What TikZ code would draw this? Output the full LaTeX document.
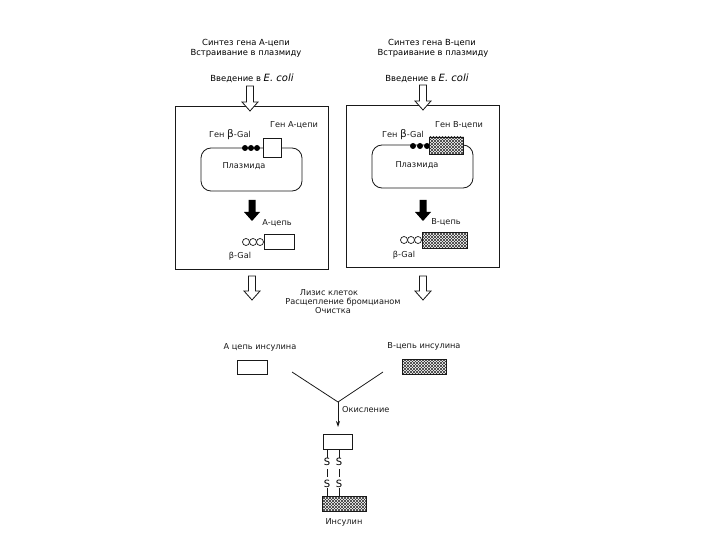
\documentclass[tikz,border=0pt]{standalone}
\usepackage{fontspec}
\setmainfont{DejaVu Sans}
\usetikzlibrary{patterns,arrows.meta}
\tikzset{
  hdr/.style={font=\fontsize{8.4}{9}\selectfont, inner sep=0pt, text=black},
  lbl/.style={font=\fontsize{8.2}{9}\selectfont, inner sep=0pt, text=black!90},
  sulf/.style={font=\fontsize{10}{11}\selectfont, inner sep=0pt, text=black},
  frame/.style={draw=black!90, line width=1pt},
  thin/.style={draw=black!90, line width=0.8pt},
  hatch/.style={draw=black!90, line width=0.8pt, preaction={fill=white}, preaction={pattern=north east lines, pattern color=black!80}, pattern=north west lines, pattern color=black!80},
  wbox/.style={draw=black!90, line width=0.8pt, fill=white},
  bead/.style={circle, fill=black, inner sep=0pt, minimum size=6pt},
  obead/.style={circle, draw=black!90, fill=white, line width=0.7pt, inner sep=0pt, minimum size=7pt},
  hollow/.pic={\draw[line width=0.8pt, draw=black!90, fill=white]
      (-3.5,0) -- (-3.5,\pgfkeysvalueof{/tikz/arrlen}-9) -- (-8,\pgfkeysvalueof{/tikz/arrlen}-9)
      -- (0,\pgfkeysvalueof{/tikz/arrlen}) -- (8,\pgfkeysvalueof{/tikz/arrlen}-9)
      -- (3.5,\pgfkeysvalueof{/tikz/arrlen}-9) -- (3.5,0) -- cycle;},
  solidarrow/.pic={\fill[black]
      (-3.5,0) -- (-3.5,12) -- (-8,12) -- (0,21) -- (8,12) -- (3.5,12) -- (3.5,0) -- cycle;},
  arrlen/.initial=24,
}
\begin{document}
\begin{tikzpicture}[x=1pt,y=-1pt]
\useasboundingbox[fill=white] (0,0) rectangle (720,540);

% ---------- left column ----------
\node[hdr] (tA1) at (246,43) {Синтез гена А-цепи};
\node[hdr] (tA2) at (246,53) {Встраивание в плазмиду};
\node[hdr] (tA3) at (252,78) {Введение в {\fontsize{10}{11}\selectfont\itshape E. coli}};

\draw[frame] (175,107) rectangle (328,269);
\path (250,86) coordinate (hA) pic[arrlen=25] {hollow};

\draw[thin, rounded corners=10pt] (201,148) rectangle (302,191);
\node[bead] (dA1) at (245,148) {};
\node[bead] (dA2) at (251,148) {};
\node[bead] (dA3) at (257,148) {};
\node[wbox, minimum width=18pt, minimum height=19pt, inner sep=0pt] (gA) at (272,147.5) {};
\node[lbl] (lgA) at (230,135) {Ген {\fontsize{10.5}{11}\selectfont β}-Gal};
\node[lbl] (lgcA) at (294,125) {Ген А-цепи};
\node[lbl] (plA) at (244,166) {Плазмида};

\path (252,200) coordinate (sA) pic {solidarrow};

\node[lbl] (ncA) at (277,223) {А-цепь};
\node[obead] (oA1) at (246,242) {};
\node[obead] (oA2) at (253,242) {};
\node[obead] (oA3) at (260,242) {};
\node[wbox, minimum width=30pt, minimum height=15pt, inner sep=0pt, anchor=west] (pA) at (264,241.5) {};
\node[lbl] (bgA) at (240,256) {β-Gal};

% ---------- right column ----------
\node[hdr] (tB1) at (432,43) {Синтез гена В-цепи};
\node[hdr] (tB2) at (433,53) {Встраивание в плазмиду};
\node[hdr] (tB3) at (427,78) {Введение в {\fontsize{10}{11}\selectfont\itshape E. coli}};

\draw[frame] (346,106) rectangle (499,267);
\path (423,85) coordinate (hB) pic[arrlen=25] {hollow};

\draw[thin, rounded corners=10pt] (372,145) rectangle (473,188);
\node[bead] (dB1) at (413,146) {};
\node[bead] (dB2) at (420,146) {};
\node[bead] (dB3) at (427,146) {};
\node[hatch, minimum width=34pt, minimum height=17pt, inner sep=0pt] (gB) at (446,145.5) {};
\node[lbl] (lgB) at (403,135) {Ген {\fontsize{10.5}{11}\selectfont β}-Gal};
\node[lbl] (lgcB) at (459,125) {Ген В-цепи};
\node[lbl] (plB) at (417,165) {Плазмида};

\path (423,200) coordinate (sB) pic {solidarrow};

\node[lbl] (ncB) at (446,222) {В-цепь};
\node[obead] (oB1) at (404,240) {};
\node[obead] (oB2) at (411,240) {};
\node[obead] (oB3) at (418,240) {};
\node[hatch, minimum width=45pt, minimum height=16pt, inner sep=0pt, anchor=west] (pB) at (422,240) {};
\node[lbl] (bgB) at (404,255) {β-Gal};

% ---------- purification ----------
\path (252,276) coordinate (hA2) pic[arrlen=24] {hollow};
\path (423,276) coordinate (hB2) pic[arrlen=24] {hollow};
\node[lbl] (m1) at (329,293) {Лизис клеток};
\node[lbl] (m2) at (343,302) {Расщепление бромцианом};
\node[lbl] (m3) at (333,311) {Очистка};

% ---------- chains ----------
\node[lbl] (iA) at (260,347) {А цепь инсулина};
\node[lbl] (iB) at (424,346) {В-цепь инсулина};
\node[wbox, minimum width=30pt, minimum height=14pt, inner sep=0pt] (rA) at (252,367) {};
\node[hatch, minimum width=44pt, minimum height=15pt, inner sep=0pt] (rB) at (424,366.5) {};

\coordinate (yA) at (292,372);
\coordinate (yB) at (383,372);
\coordinate (yJ) at (338,402);
\draw[thin] (yA) -- (yJ) -- (yB);

\node[lbl, anchor=west] (ox) at (342,410) {Окисление};

\node[wbox, minimum width=29pt, minimum height=15pt, inner sep=0pt] (insA) at (337.5,442) {};
\draw[thin, -{Stealth[length=6pt,width=4pt]}] (yJ) -- (338,427);

\node[sulf] (s1) at (327,462) {S};
\node[sulf] (s2) at (339,462) {S};
\node[sulf] (s3) at (327,484) {S};
\node[sulf] (s4) at (339,484) {S};
\node[hatch, minimum width=44pt, minimum height=15pt, inner sep=0pt] (insB) at (344,503.5) {};
\node[lbl] (ins) at (344,522) {Инсулин};

\draw[thin] (s1.north |- insA.south) -- (s1.north);
\draw[thin] (s2.north |- insA.south) -- (s2.north);
\draw[thin] ([yshift=-3.5pt]s1.south) -- ([yshift=3.5pt]s3.north);
\draw[thin] ([yshift=-3.5pt]s2.south) -- ([yshift=3.5pt]s4.north);
\draw[thin] (s3.south) -- (s3.south |- insB.north);
\draw[thin] (s4.south) -- (s4.south |- insB.north);
\end{tikzpicture}
\end{document}
